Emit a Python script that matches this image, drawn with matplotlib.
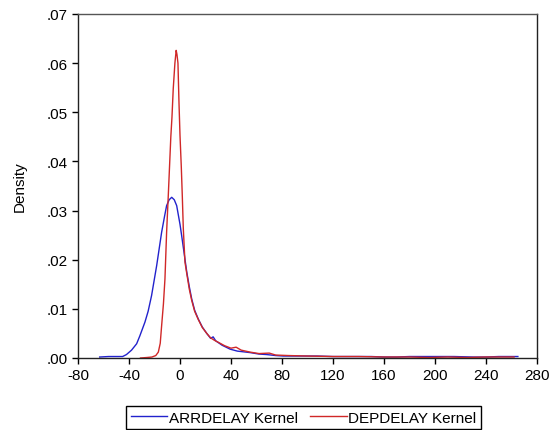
import matplotlib.pyplot as plt
from matplotlib.ticker import FuncFormatter

plt.rcParams['font.family'] = ['Liberation Sans', 'DejaVu Sans']
plt.rcParams['axes.unicode_minus'] = False

# kernel density estimates
arr_x = [-63, -56, -50, -45, -42, -38, -34, -31.5, -27.5, -25, -22.3, -18.3, -14.4,
         -12, -10.5, -8.5, -6.5, -4.5, -2.6, 0, 1.3, 3.3, 5.3, 7.3, 9.2, 11.5, 14.4,
         17.5, 21, 24, 26, 28, 33, 39.3, 45, 55, 62, 68, 75, 81, 90, 100, 107.5,
         120, 135, 150, 160, 170, 180, 190, 200, 215, 230, 240, 250, 258, 265]
arr_y = [0.0002, 0.0003, 0.0003, 0.0003, 0.0007, 0.0016, 0.0029, 0.0045, 0.0073,
         0.0095, 0.0127, 0.0188, 0.0256, 0.0290, 0.0310, 0.0322, 0.0327, 0.0322,
         0.0310, 0.0272, 0.0249, 0.0212, 0.0175, 0.0145, 0.0120, 0.0097, 0.0079,
         0.0063, 0.0050, 0.0040, 0.0043, 0.0035, 0.0026, 0.0018, 0.0014, 0.0011,
         0.0008, 0.0007, 0.0005, 0.0004, 0.0004, 0.0004, 0.0004, 0.0003, 0.0003,
         0.0003, 0.0002, 0.0002, 0.0003, 0.0003, 0.0003, 0.0003, 0.0002, 0.0002,
         0.0003, 0.0003, 0.0003]

dep_x = [-31, -26, -22, -19, -17, -15.5, -14.4, -13, -11.8, -10.5, -9.2, -8.2,
         -7.2, -6.3, -5.3, -4.0, -3.0, -2.4, -1.6, -0.8, 0, 1.0, 1.8, 2.6, 3.9,
         5.3, 7.3, 9.2, 11.5, 14.4, 17.5, 21, 24, 27, 30, 35, 40, 44, 48, 55, 62,
         70, 75, 85, 100, 120, 140, 160, 180, 195, 210, 225, 240, 250, 262]
dep_y = [0.0000, 0.0001, 0.0002, 0.0005, 0.0012, 0.0030, 0.0066, 0.0110, 0.0161,
         0.0256, 0.0330, 0.0390, 0.0450, 0.0490, 0.0548, 0.0600, 0.0626, 0.0618,
         0.0600, 0.0520, 0.0453, 0.0390, 0.0330, 0.0263, 0.0195, 0.0172, 0.0140,
         0.0117, 0.0095, 0.0078, 0.0062, 0.0050, 0.0041, 0.0036, 0.0032, 0.0025,
         0.0020, 0.0022, 0.0016, 0.0012, 0.0009, 0.0010, 0.0006, 0.0005, 0.0004,
         0.0003, 0.0003, 0.0002, 0.0002, 0.0001, 0.0002, 0.0001, 0.0002, 0.0002,
         0.0002]

x_ticks = [-80, -40, 0, 40, 80, 120, 160, 200, 240, 280]
y_ticks = [0.00, 0.01, 0.02, 0.03, 0.04, 0.05, 0.06, 0.07]

fig = plt.figure(figsize=(5.5, 4.31), dpi=100)
ax = fig.add_axes([78 / 550, 1 - 359 / 431, 459 / 550, 344 / 431])

ax.plot(arr_x, arr_y, color='#2222cc', lw=1.0, label='ARRDELAY Kernel')
ax.plot(dep_x, dep_y, color='#d02828', lw=1.0, label='DEPDELAY Kernel')

ax.set_xlim(-80, 280)
ax.set_ylim(0, 0.07)
ax.set_xticks(x_ticks)
ax.set_yticks(y_ticks)
ax.yaxis.set_major_formatter(FuncFormatter(lambda v, p: f"{v:.2f}"[1:]))
ax.tick_params(direction='out', length=4, width=1, labelsize=11, color='black')
for s in ax.spines.values():
    s.set_color('#222222')
    s.set_linewidth(1.0)
ax.spines['top'].set_color('#555555')

ax.set_ylabel('Density', fontsize=11, labelpad=14)

fig.legend(loc='upper left', bbox_to_anchor=(126 / 550, 1 - 407 / 431), ncol=2,
           fontsize=11, frameon=True, fancybox=False, framealpha=1,
           edgecolor='black', handlelength=2.4, handletextpad=0.1,
           columnspacing=0.8, borderpad=0.3, borderaxespad=0)

fig.savefig('out.png', dpi=100)
